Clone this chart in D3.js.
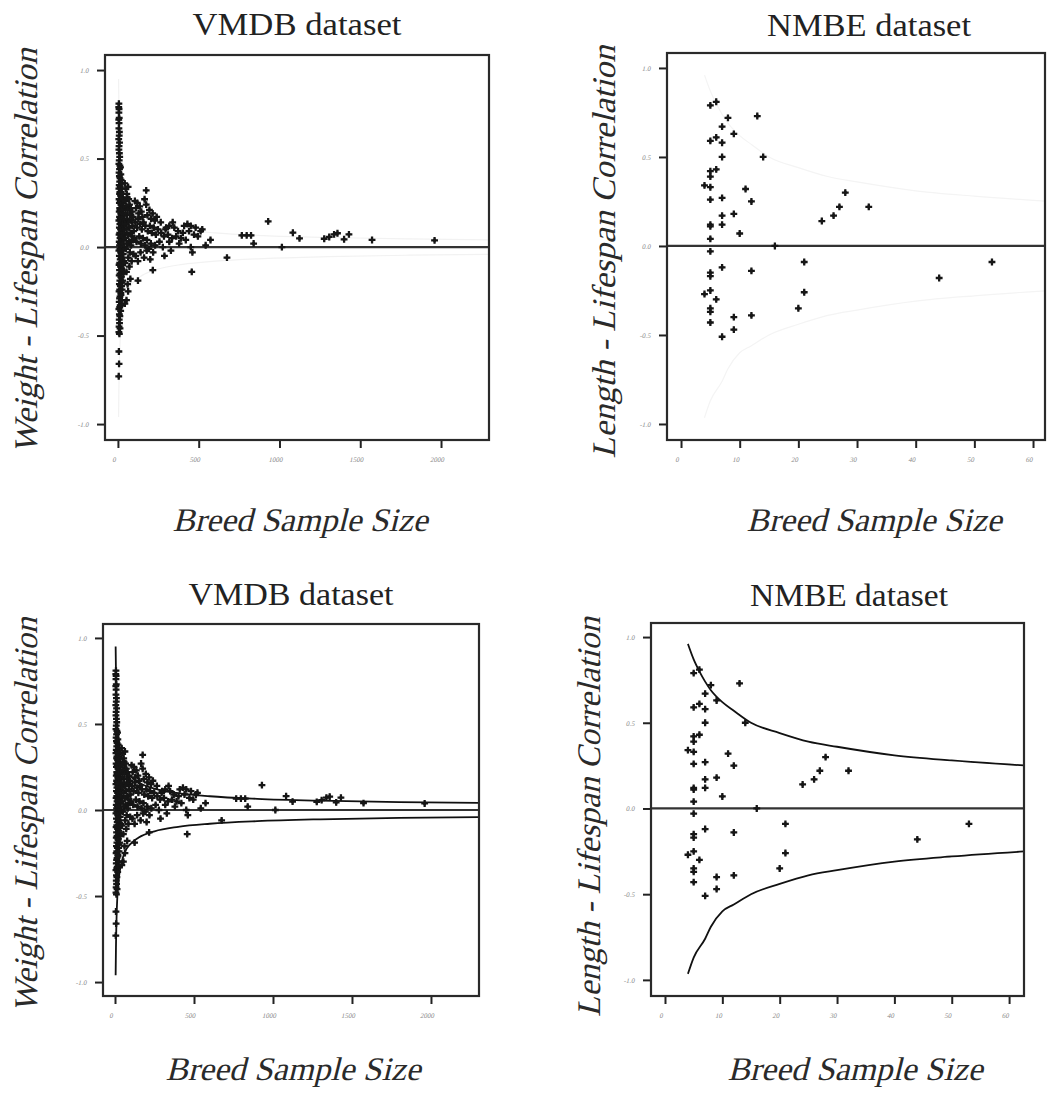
<!DOCTYPE html>
<html lang="en">
<head>
<meta charset="UTF-8">
<title>Breed sample size vs correlation</title>
<script src="https://cdn.jsdelivr.net/npm/d3@7"></script>
<style>
body{margin:0;background:#fff;}
svg text{font-family:"Liberation Serif","Times New Roman",serif;}
.axis .tick text{fill:#8a8a8a;font-size:7px;}
.axis .tick line{stroke:#222;stroke-width:2;}
.axis .domain{display:none;}
</style>
</head>
<body>
<div id="root"></div>
<script>
// tick values / labels
const yTicks=[-1,-0.5,0,0.5,1]
const yTickLabels=["-1.0","-0.5","0.0","0.5","1.0"]
const vmdbTicks=[0,500,1000,1500,2000]
const nmbeTicks=[0,10,20,30,40,50,60]

// VMDB breeds: [sample size, correlation]
const vmdbPoints=[
 [6,0.81],[5,0.79],[7,0.78],[6,0.76],[8,0.73],[5,0.72],[7,0.70],[6,0.67],[9,0.65],[8,0.63],[5,0.61],[10,0.59],[7,0.57],[6,0.55],[9,0.53],[11,0.51],[8,0.49],[6,0.47],[12,0.46],[10,0.44],[7,0.42],[9,0.40],[13,0.39],[11,0.37],[8,0.35],[14,0.34],[6,0.33],[12,0.31],[10,0.30],[16,0.29],[7,0.27],[15,0.26],[9,0.25],[18,0.24],[11,0.22],[13,0.21],[8,0.20],[17,0.19],[20,0.18],[10,0.17],[14,0.16],[6,0.15],[19,0.14],[12,0.13],[22,0.12],[9,0.11],[16,0.10],[25,0.09],[11,0.08],[7,0.07],[18,0.06],[13,0.05],[21,0.04],[8,0.03],[15,0.02],[10,0.01],[24,0.00],[12,-0.01],[6,-0.02],[17,-0.03],[9,-0.05],[20,-0.06],[14,-0.07],[11,-0.09],[7,-0.10],[16,-0.11],[23,-0.12],[10,-0.13],[13,-0.15],[8,-0.16],[19,-0.17],[12,-0.19],[26,-0.20],[9,-0.21],[15,-0.22],[11,-0.24],[7,-0.25],[18,-0.26],[13,-0.28],[10,-0.29],[22,-0.30],[8,-0.31],[14,-0.33],[11,-0.34],[6,-0.35],[17,-0.36],[9,-0.38],[12,-0.39],[8,-0.41],[10,-0.43],[7,-0.45],[13,-0.46],[6,-0.48],[9,-0.49],[6,-0.59],[7,-0.66],[5,-0.73],
 [16,0.45],[18,0.41],[20,0.38],[22,0.36],[24,0.33],[19,0.31],[27,0.30],[21,0.28],[30,0.27],[25,0.26],[33,0.25],[28,0.23],[36,0.22],[23,0.21],[31,0.19],[38,0.18],[26,0.16],[34,0.15],[29,0.13],[40,0.12],[32,0.10],[37,0.08],[24,0.06],[35,0.04],[27,0.02],[39,0.00],[30,-0.02],[33,-0.04],[22,-0.06],[36,-0.08],[28,-0.10],[25,-0.13],[34,-0.15],[20,-0.17],[29,-0.19],[23,-0.22],[26,-0.24],[19,-0.27],[21,-0.30],[17,-0.33],
 [42,0.36],[48,0.33],[55,0.30],[63,0.34],[58,0.28],[45,0.26],[67,0.27],[72,0.24],[52,0.23],[80,0.22],[60,0.21],[88,0.20],[47,0.19],[75,0.18],[95,0.17],[56,0.16],[83,0.15],[65,0.14],[44,0.13],[90,0.12],[70,0.11],[53,0.10],[98,0.09],[78,0.08],[61,0.07],[86,0.06],[46,0.05],[93,0.04],[68,0.03],[57,0.02],[81,0.01],[50,-0.01],[74,-0.03],[96,-0.04],[64,-0.06],[85,-0.08],[43,-0.09],[71,-0.11],[53,-0.14],[63,-0.25],[53,-0.30],[43,-0.32],[77,-0.18],[60,-0.21],
 [105,0.26],[112,0.22],[120,0.25],[128,0.19],[135,0.23],[145,0.20],[152,0.17],[165,0.27],[175,0.32],[175,0.24],[182,0.18],[195,0.21],[205,0.16],[215,0.19],[228,0.15],[240,0.17],[108,0.14],[118,0.11],[126,0.16],[138,0.13],[148,0.10],[158,0.14],[170,0.12],[185,0.09],[198,0.12],[210,0.08],[222,0.11],[235,0.07],[248,0.10],[102,0.05],[115,0.03],[132,0.06],[142,0.02],[155,0.05],[168,0.01],[180,0.04],[192,-0.01],[204,0.02],[218,-0.03],[230,0.01],[110,-0.05],[124,-0.08],[140,-0.03],[162,-0.06],[178,-0.02],[200,-0.07],[216,-0.13],[124,-0.19],
 [257,0.03],[265,0.14],[278,0.00],[288,-0.05],[295,0.10],[298,0.11],[310,0.07],[318,0.12],[318,0.03],[328,-0.02],[339,0.14],[349,0.11],[360,0.06],[372,0.09],[379,0.02],[390,0.05],[402,0.08],[410,0.12],[420,0.04],[430,0.13],[440,0.09],[451,0.12],[451,0.00],[461,-0.03],[471,0.07],[481,0.11],[495,0.06],[512,0.09],[522,0.10],[543,0.01],[573,0.04],[457,-0.14],[268,0.08],[285,0.06],[335,0.05],
 [675,-0.06],[767,0.066],[797,0.066],[824,0.066],[840,0.02],[930,0.145],[1015,0.0],[1083,0.081],[1124,0.049],[1277,0.047],[1308,0.057],[1338,0.072],[1359,0.078],[1400,0.044],[1430,0.072],[1573,0.04],[1960,0.038]
]

// NMBE breeds: [sample size, correlation]
const nmbePoints=[
 [5,0.79],[6,0.81],[8,0.72],[7,0.67],[9,0.63],[13,0.73],[5,0.59],[6,0.61],[7,0.58],[7,0.50],[14,0.50],
 [5,0.39],[5,0.42],[6,0.43],[4,0.34],[5,0.33],[11,0.32],[5,0.26],[7,0.27],[12,0.25],
 [28,0.30],[27,0.22],[26,0.17],[24,0.14],[32,0.22],[9,0.18],[7,0.17],[7,0.12],[5,0.12],[5,0.11],
 [10,0.07],[5,0.04],[16,0.0],[5,-0.03],[7,-0.12],[12,-0.14],[5,-0.15],[5,-0.17],[21,-0.09],[21,-0.26],
 [4,-0.27],[5,-0.25],[6,-0.30],[5,-0.35],[5,-0.37],[20,-0.35],[12,-0.39],[9,-0.40],[5,-0.43],[9,-0.47],
 [7,-0.51],[44,-0.18],[53,-0.09]
]

// confidence bounds: [sample size, correlation]
const vmdbUpper=[[4,0.95],[6,0.80],[10,0.62],[15,0.50],[25,0.39],[40,0.31],[60,0.25],[100,0.195],[150,0.16],[250,0.124],[400,0.098],[600,0.08],[900,0.065],[1300,0.054],[1800,0.046],[2300,0.041]]
const vmdbLower=[[4,-0.96],[6,-0.80],[10,-0.62],[15,-0.50],[25,-0.39],[40,-0.31],[60,-0.25],[100,-0.195],[150,-0.16],[250,-0.124],[400,-0.098],[600,-0.08],[900,-0.065],[1300,-0.054],[1800,-0.046],[2300,-0.041]]
const nmbeUpper=[[4,0.96],[5,0.87],[6,0.80],[7,0.74],[8,0.69],[10,0.62],[12,0.57],[15,0.50],[20,0.44],[25,0.39],[30,0.36],[40,0.31],[50,0.28],[63,0.25]]
const nmbeLower=[[4,-0.965],[5,-0.87],[7,-0.76],[8,-0.69],[10,-0.60],[12,-0.56],[15,-0.50],[20,-0.44],[25,-0.39],[30,-0.36],[40,-0.31],[50,-0.28],[63,-0.25]]

let width=1048,height=1108
let svg=d3.select("#root").append("svg").attr("width",width).attr("height",height)

const panels=[
 {id:"p1",title:"VMDB dataset",titleX:297,titleY:35,titleLen:209,ylab:"Weight - Lifespan Correlation",ylabX:37,ylabY:251,ylabLen:405,
  xlabX:300,xlabY:531,box:[105,55,489,440],xDomain:[-80,2297],yDomain:[-1.09,1.085],ticks:vmdbTicks,
  points:vmdbPoints,upper:vmdbUpper,lower:vmdbLower,curveColor:"#f2f2f2",curveWidth:1.2},
 {id:"p2",title:"NMBE dataset",titleX:869,titleY:36,titleLen:204,ylab:"Length - Lifespan Correlation",ylabX:615,ylabY:252,ylabLen:413,
  xlabX:874,xlabY:531,box:[667,53,1045,440],xDomain:[-2.39,62.04],yDomain:[-1.09,1.084],ticks:nmbeTicks,
  points:nmbePoints,upper:nmbeUpper,lower:nmbeLower,curveColor:"#f4f4f4",curveWidth:1.2},
 {id:"p3",title:"VMDB dataset",titleX:291,titleY:605,titleLen:205,ylab:"Weight - Lifespan Correlation",ylabX:37,ylabY:815,ylabLen:395,
  xlabX:293,xlabY:1080,box:[103,624,479,996],xDomain:[-76,2304],yDomain:[-1.081,1.081],ticks:vmdbTicks,
  points:vmdbPoints,upper:vmdbUpper,lower:vmdbLower,curveColor:"#111",curveWidth:1.8},
 {id:"p4",title:"NMBE dataset",titleX:849,titleY:606,titleLen:198,ylab:"Length - Lifespan Correlation",ylabX:600,ylabY:817,ylabLen:400,
  xlabX:855,xlabY:1080,box:[651,623,1024,996],xDomain:[-2.44,62.6],yDomain:[-1.094,1.082],ticks:nmbeTicks,
  points:nmbePoints,upper:nmbeUpper,lower:nmbeLower,curveColor:"#111",curveWidth:1.8}
]

function renderPanel(p){
  let [x0,y0,x1,y1]=p.box
  let x=d3.scaleLinear().domain(p.xDomain).range([x0,x1])
  let y=d3.scaleLinear().domain(p.yDomain).range([y1,y0])
  let g=svg.append("g").attr("class","panel")

  g.append("clipPath").attr("id","clip-"+p.id).append("rect")
   .attr("x",x0).attr("y",y0).attr("width",x1-x0).attr("height",y1-y0)

  // axes
  g.append("g").attr("class","axis").attr("transform","translate(0,"+(y1+1)+")")
   .call(d3.axisBottom(x).tickValues(p.ticks).tickSize(7).tickSizeOuter(0).tickPadding(9).tickFormat(d3.format("d")))
  g.append("g").attr("class","axis").attr("transform","translate("+(x0-1)+",0)")
   .call(d3.axisLeft(y).tickValues(yTicks).tickSize(7).tickSizeOuter(0).tickPadding(8).tickFormat((d,i)=>yTickLabels[i]))
  g.selectAll(".axis .tick text").attr("transform","skewX(-12)")

  let plot=g.append("g").attr("clip-path","url(#clip-"+p.id+")")

  // zero reference line
  plot.append("line").attr("x1",x0).attr("x2",x1).attr("y1",y(0)).attr("y2",y(0))
   .attr("stroke","#333").attr("stroke-width",2.2)

  // bounds
  let line=d3.line().x(d=>x(d[0])).y(d=>y(d[1])).curve(d3.curveMonotoneX)
  ;[p.upper,p.lower].forEach(c=>{
    plot.append("path").datum(c).attr("d",line).attr("fill","none")
     .attr("stroke",p.curveColor).attr("stroke-width",p.curveWidth)
  })

  // points
  let cross=d3.symbol().type(d3.symbolCross).size(26)
  let dot=d3.symbol().type(d3.symbolDiamond).size(12)
  let pts=plot.selectAll("g.pt").data(p.points).enter().append("g").attr("class","pt")
   .attr("transform",d=>"translate("+x(d[0])+","+y(d[1])+")")
  pts.append("path").attr("d",cross).attr("fill","#161616")
  pts.append("path").attr("d",dot).attr("fill","#161616")

  // frame
  g.append("rect").attr("x",x0).attr("y",y0).attr("width",x1-x0).attr("height",y1-y0)
   .attr("fill","none").attr("stroke","#2a2a2a").attr("stroke-width",2.2)

  // titles (italic is faked with a skew so the serif face is kept)
  g.append("text").attr("x",p.titleX).attr("y",p.titleY).attr("text-anchor","middle")
   .attr("font-size",31).attr("fill","#222").attr("textLength",p.titleLen).attr("lengthAdjust","spacingAndGlyphs")
   .text(p.title)
  g.append("text").attr("transform","translate("+p.xlabX+","+p.xlabY+") skewX(-14)").attr("text-anchor","middle")
   .attr("font-size",33).attr("fill","#2a2a2a").attr("textLength",255).attr("lengthAdjust","spacingAndGlyphs")
   .text("Breed Sample Size")
  g.append("text").attr("transform","translate("+p.ylabX+","+p.ylabY+") rotate(-90) skewX(-14)").attr("text-anchor","middle")
   .attr("font-size",33).attr("fill","#2a2a2a").attr("textLength",p.ylabLen).attr("lengthAdjust","spacingAndGlyphs")
   .text(p.ylab)
}

panels.forEach(renderPanel)
</script>
</body>
</html>
